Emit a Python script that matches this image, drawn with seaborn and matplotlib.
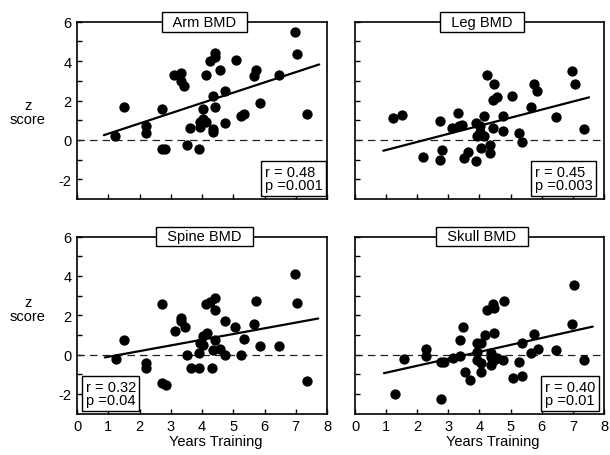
import matplotlib
matplotlib.use("Agg")
import matplotlib.pyplot as plt
import numpy as np
import pandas as pd
import seaborn as sns

# ---------------- data ----------------
arm_x = [1.21, 1.50, 2.20, 2.20, 2.71, 2.71, 2.82, 3.11, 3.33, 3.33, 3.43, 3.63, 3.51, 3.89,
         3.92, 3.92, 4.02, 4.04, 4.13, 4.13, 4.24, 4.34, 4.34, 4.34, 4.42, 4.43, 4.43, 4.56,
         4.75, 4.75, 5.09, 5.25, 5.33, 5.67, 5.74, 5.84, 6.46, 6.99, 7.05, 7.37]
arm_y = [0.20, 1.69, 0.71, 0.37, 1.56, -0.44, -0.44, 3.29, 3.39, 3.00, 2.75, 0.58, -0.24, -0.44,
         0.92, 0.68, 1.56, 1.05, 0.92, 3.29, 4.00, 0.54, 0.41, 2.24, 1.69, 4.41, 4.19, 3.56,
         2.49, 0.85, 4.05, 1.22, 1.34, 3.25, 3.56, 1.85, 3.29, 5.49, 4.36, 1.34]

leg_x = [1.23, 1.51, 2.20, 2.72, 2.72, 2.80, 3.12, 3.32, 3.34, 3.45, 3.51, 3.64, 3.90, 3.90,
         3.93, 4.01, 4.01, 4.04, 4.15, 4.16, 4.25, 4.33, 4.35, 4.42, 4.44, 4.45, 4.55, 4.76,
         4.76, 5.06, 5.26, 5.35, 5.67, 5.75, 5.86, 6.45, 6.98, 7.06, 7.37]
leg_y = [1.09, 1.25, -0.89, 0.95, -1.02, -0.52, 0.59, 1.37, 0.70, 0.75, -0.92, -0.59, 0.87, -1.09,
         0.20, 0.70, 0.42, -0.43, 0.20, 1.19, 3.29, -0.27, -0.69, 0.59, 2.04, 2.84, 2.16, 0.45,
         1.19, 2.24, 0.37, -0.10, 1.67, 2.84, 2.49, 1.17, 3.51, 2.83, 0.57]

spine_x = [1.24, 1.50, 2.22, 2.22, 2.73, 2.71, 2.84, 3.13, 3.34, 3.34, 3.45, 3.51, 3.64, 3.91,
           3.91, 3.93, 4.04, 4.04, 4.15, 4.14, 4.25, 4.33, 4.35, 4.42, 4.42, 4.42, 4.57, 4.73,
           4.73, 5.06, 5.33, 5.26, 5.65, 5.73, 5.85, 6.46, 6.98, 7.04, 7.36]
spine_y = [-0.25, 0.72, -0.45, -0.70, 2.55, -1.45, -1.57, 1.22, 1.88, 1.68, 1.42, 0.00, -0.67, -0.67,
           0.10, 0.60, 0.47, 0.93, 1.08, 2.55, 2.67, -0.67, 0.25, 2.88, 2.25, 0.72, 0.30, -0.03,
           1.72, 1.38, 0.77, -0.03, 1.55, 2.72, 0.43, 0.43, 4.10, 2.63, -1.33]

skull_x = [1.29, 1.57, 2.27, 2.27, 2.76, 2.87, 2.77, 3.16, 3.37, 3.37, 3.47, 3.55, 3.68, 3.93,
           3.93, 3.93, 4.06, 4.06, 4.06, 4.18, 4.25, 4.36, 4.36, 4.36, 4.44, 4.46, 4.46, 4.46,
           4.57, 4.76, 4.78, 5.07, 5.28, 5.35, 5.35, 5.66, 5.74, 5.87, 6.46, 6.97, 7.04, 7.35]
skull_y = [-2.03, -0.25, 0.30, -0.07, -0.40, -0.40, -2.28, -0.20, -0.08, 0.72, 1.38, -0.90, -1.32, 0.60,
           0.13, -0.28, 0.60, -0.45, -0.90, 0.97, 2.25, 0.08, -0.12, -0.53, 2.58, 2.35, 1.10, -0.28,
           -0.20, -0.28, 2.72, -1.20, -0.40, -1.07, 0.58, 0.08, 1.05, 0.27, 0.22, 1.55, 3.52, -0.28]

# regression lines (end points)
arm_fit_x, arm_fit_y = [0.86, 7.75], [0.24, 3.83]
leg_fit_x, leg_fit_y = [0.91, 7.52], [-0.55, 2.16]
spine_fit_x, spine_fit_y = [0.89, 7.72], [-0.15, 1.83]
skull_fit_x, skull_fit_y = [0.93, 7.64], [-0.95, 1.42]

titles = ["Arm BMD", "Leg BMD", "Spine BMD", "Skull BMD"]
stats = ["r = 0.48\np =0.001", "r = 0.45\np =0.003", "r = 0.32\np =0.04", "r = 0.40\np =0.01"]
x_ticks = [0, 1, 2, 3, 4, 5, 6, 7, 8]
y_ticks = [-2, -1, 0, 1, 2, 3, 4, 5, 6]
y_tick_labels = ["-2", "", "0", "", "2", "", "4", "", "6"]
x_label = "Years Training"
y_label = "z\nscore"

# ---------------- style ----------------
sns.set_theme(style="white")
plt.rcParams["font.family"] = ["Liberation Sans", "DejaVu Sans"]
FS = 10.5

W, H = 610, 456
fig = plt.figure(figsize=(W / 100, H / 100), dpi=100)

def px_axes(x0, x1, y0, y1):
    return fig.add_axes([x0 / W, 1 - y1 / H, (x1 - x0) / W, (y1 - y0) / H])

ax_tl = px_axes(77, 327, 22.7, 200)
ax_tr = px_axes(355, 604, 22.7, 200)
ax_bl = px_axes(77, 327, 237.5, 414.5)
ax_br = px_axes(355, 604, 237.5, 414.5)
axes = [ax_tl, ax_tr, ax_bl, ax_br]

points = [(arm_x, arm_y), (leg_x, leg_y), (spine_x, spine_y), (skull_x, skull_y)]
fits = [(arm_fit_x, arm_fit_y), (leg_fit_x, leg_fit_y),
        (spine_fit_x, spine_fit_y), (skull_fit_x, skull_fit_y)]

# stats box anchors (axes fraction) and alignment
stat_pos = [(0.982, 0.037, "right"), (0.955, 0.037, "right"),
            (0.034, 0.036, "left"), (0.965, 0.036, "right")]

for i, ax in enumerate(axes):
    px, py = points[i]
    df = pd.DataFrame({"x": px, "y": py})
    ax.axhline(0, color="#222222", lw=0.9, ls=(0, (6, 4)), zorder=1)
    fx, fy = fits[i]
    sns.lineplot(x=fx, y=fy, ax=ax, color="black", lw=1.6, zorder=2)
    sns.scatterplot(data=df, x="x", y="y", ax=ax, color="black", s=55,
                    linewidth=0, zorder=3)
    ax.set_xlim(0, 8)
    ax.set_ylim(-3, 6)
    ax.set_xticks(x_ticks)
    ax.set_yticks(y_ticks)
    bottom = i >= 2
    left = i % 2 == 0
    ax.set_xticklabels([str(t) for t in x_ticks] if bottom else [""] * len(x_ticks))
    ax.set_yticklabels(y_tick_labels if left else [""] * len(y_ticks))
    ax.tick_params(direction="in", length=3.5, width=1, color="black",
                   labelsize=FS, labelcolor="black", pad=4,
                   bottom=True, left=True, top=False, right=False)
    ax.set_xlabel("")
    ax.set_ylabel("")
    for sp in ax.spines.values():
        sp.set_color("black")
        sp.set_linewidth(1.2)
    if bottom:
        ax.set_xlabel(x_label, fontsize=FS, color="black", labelpad=1)
        ax.xaxis.label.set_x(0.555)
    # boxed title straddling the top spine
    ax.text(0.51, 1.0, "  " + titles[i] + "  ", transform=ax.transAxes,
            ha="center", va="center", fontsize=FS, color="black", zorder=5,
            bbox=dict(boxstyle="square,pad=0.2", fc="white", ec="black", lw=1))
    sx, sy, ha = stat_pos[i]
    ax.text(sx, sy, stats[i], transform=ax.transAxes, ha=ha, va="bottom",
            multialignment="left", fontsize=FS, color="black", linespacing=0.95,
            zorder=5,
            bbox=dict(boxstyle="square,pad=0.25", fc="white", ec="black", lw=1))

fig.text(28 / W, 1 - 113 / H, y_label, ha="center", va="center",
         fontsize=FS, color="black", linespacing=1.0)
fig.text(28 / W, 1 - 310 / H, y_label, ha="center", va="center",
         fontsize=FS, color="black", linespacing=1.0)

fig.savefig("out.png", dpi=100)
